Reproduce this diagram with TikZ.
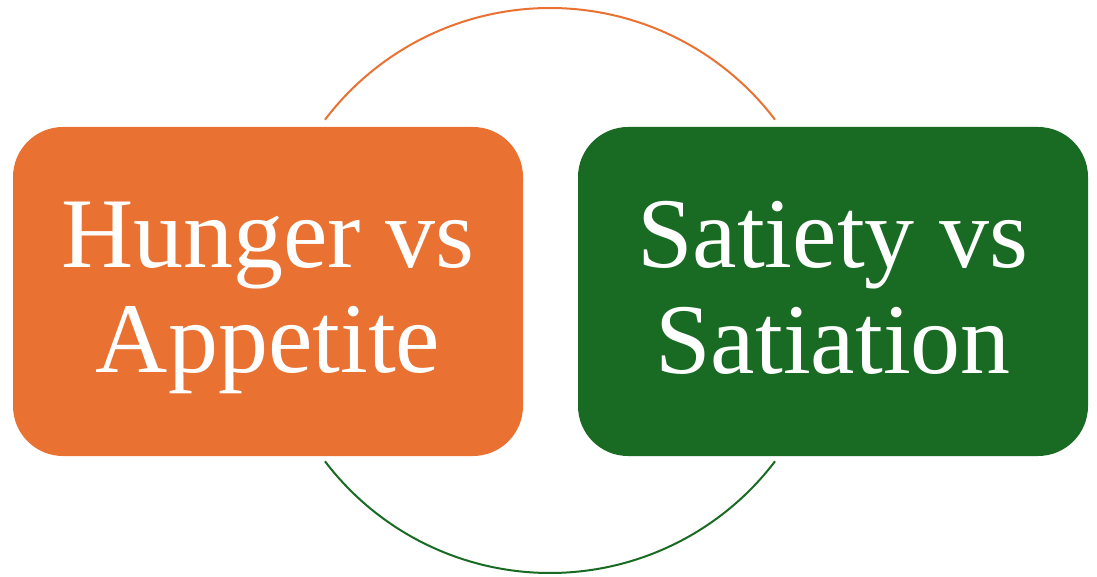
\documentclass[tikz,border=0pt]{standalone}
\usepackage{fontspec}
\setmainfont{Liberation Serif}
\usepackage{tikz}
\usetikzlibrary{positioning}
\usepackage{xcolor}
\definecolor{hungerorange}{HTML}{E97132}
\definecolor{satietygreen}{HTML}{196B24}
% same line height for every label line
\newcommand{\lblstrut}{\rule[-21pt]{0pt}{100pt}}

\begin{document}
\begin{tikzpicture}[
  x=1pt, y=1pt,
  font=\fontsize{100}{105}\selectfont,
  box/.style={rounded corners=50pt, align=center, text=white, minimum width=510pt, minimum height=329pt, inner sep=0pt},
  ring/.style={line width=2pt}
]
\useasboundingbox (0,0) rectangle (1097,576);

\coordinate (mid) at (550,285.5);

\draw[ring, hungerorange] ([shift={(142.8:282.5)}]mid) arc (142.8:37.2:282.5);
\draw[ring, satietygreen] ([shift={(217.2:282.5)}]mid) arc (217.2:322.8:282.5);

\node[box, fill=hungerorange] (hunger) at (268,284.5) {\lblstrut Hunger vs\\\lblstrut Appetite};
\node[box, fill=satietygreen] (satiety) at (833,284.5) {\lblstrut Satiety vs\\\lblstrut Satiation};

\end{tikzpicture}
\end{document}
